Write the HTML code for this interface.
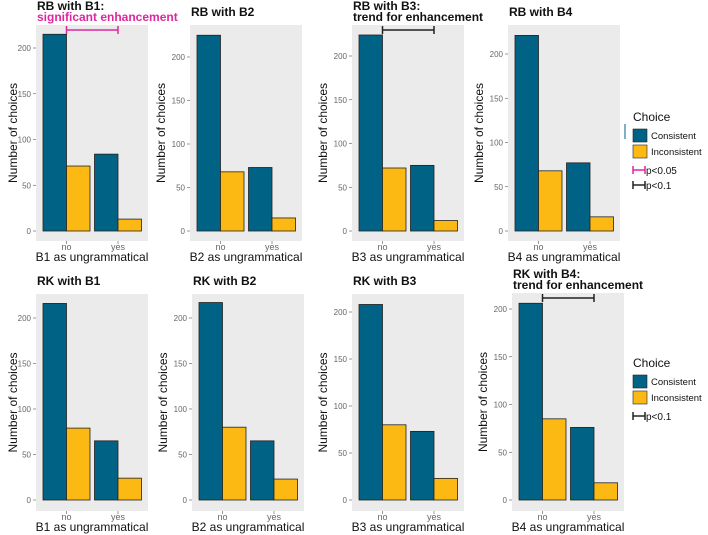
<!DOCTYPE html>
<html><head><meta charset="utf-8"><style>
body{margin:0;background:#fff;}
svg{display:block;font-family:"Liberation Sans",sans-serif;}
</style></head><body>
<svg id="chart" width="708" height="535" xmlns="http://www.w3.org/2000/svg"></svg>
<script>
const categories = ["no","yes"];
const seriesNames = ["Consistent","Inconsistent"];
const titles = [["RB with B1:","significant enhancement"],["RB with B2"],["RB with B3:","trend for enhancement"],["RB with B4"],
  ["RK with B1"],["RK with B2"],["RK with B3"],["RK with B4:","trend for enhancement"]];
const xTitles = ["B1 as ungrammatical","B2 as ungrammatical","B3 as ungrammatical","B4 as ungrammatical",
  "B1 as ungrammatical","B2 as ungrammatical","B3 as ungrammatical","B4 as ungrammatical"];
const consistentValues = [215,225,224,221,216,217,208,206];
const inconsistentValues = [71,68,72,68,79,80,80,85];
const consistentYes = [84,73,75,77,65,65,73,76];
const inconsistentYes = [13,15,12,16,24,23,23,18];
const yTicks = [0,50,100,150,200];
const sigType = ["p05",null,"p1",null,null,null,null,"p1"];
// layout (not data)
const layout = [
 {x:36,top:25,bot:241,y0:231,y200:48},{x:190,top:25,bot:241,y0:231,y200:57},
 {x:352,top:25,bot:241,y0:231,y200:56},{x:508,top:25,bot:241,y0:231,y200:54},
 {x:36,top:294,bot:511,y0:500,y200:318},{x:192,top:294,bot:511,y0:500,y200:318},
 {x:352,top:294,bot:511,y0:500,y200:312},{x:512,top:293,bot:511,y0:500,y200:309}];
const svg=document.getElementById('chart');const NS="http://www.w3.org/2000/svg";
function mk(t,a,p){const e=document.createElementNS(NS,t);for(const k in a)e.setAttribute(k,a[k]);(p||svg).appendChild(e);return e;}
const colors=["#006385","#fdb913"];
for(let i=0;i<8;i++){
  const L=layout[i];const g=mk('g',{});
  
  
  const W=112;
  const bg=mk('rect',{x:L.x,y:L.top,width:W,height:L.bot-L.top,fill:'#ebebeb'},g);
  
  
  const ys=v=>L.y0-(L.y200-L.y0)*-v/200;
  yTicks.forEach(t=>{
    const y=ys(t);
    mk('line',{x1:L.x-3,x2:L.x,y1:y,y2:y,stroke:'#555','stroke-width':0.6},g);
    const tx=mk('text',{x:L.x-5,y:y+3,'font-size':8,fill:'#666','text-anchor':'end'},g);tx.textContent=t;
    
    
  });
  const vals=[[consistentValues[i],inconsistentValues[i]],[consistentYes[i],inconsistentYes[i]]];
  const bw=23.5;
  categories.forEach((c,ci)=>{
    const cx=L.x+7+bw+ci*(bw*2+4.5);
    mk('line',{x1:cx,x2:cx,y1:L.bot,y2:L.bot+3,stroke:'#555','stroke-width':0.6},g);
    const tl=mk('text',{x:cx,y:L.bot+9,'font-size':9,fill:'#666','text-anchor':'middle'},g);tl.textContent=c;
    
    
    vals[ci].forEach((v,si)=>{
      const x=cx-bw+si*bw;
      const r=mk('rect',{x:x,y:ys(v),width:bw,height:L.y0-ys(v),fill:colors[si],stroke:'#222','stroke-width':0.8},g);
      
      
    });
  });
  const xt=mk('text',{x:L.x+W/2,y:L.bot+20,'font-size':12,fill:'#111','text-anchor':'middle'},g);xt.textContent=xTitles[i];
  
  
  const yc=(L.top+L.bot)/2, yx=L.x-(i%4===0?19:25);
  const yt=mk('text',{x:yx,y:yc,'font-size':12,fill:'#111','text-anchor':'middle',transform:`rotate(-90 ${yx} ${yc})`},g);yt.textContent="Number of choices";
  
  
  const T=titles[i];
  T.forEach((s,li)=>{
    const ty=T.length===1?L.top-9:L.top-15+li*11;
    const col=(i===0&&li===1)?'#e0269f':'#111';
    const tt=mk('text',{x:L.x+1,y:ty,'font-size':12,'font-weight':'bold',fill:col},g);tt.textContent=s;
    
    
  });
  if(sigType[i]){
    const col=sigType[i]==='p05'?'#e0269f':'#222';
    const x1=L.x+7+bw, x2=x1+bw*2+4.5, y=L.top+5;
    const b=mk('g',{stroke:col,'stroke-width':1.5},g);
    
    
    mk('line',{x1:x1,x2:x2,y1:y,y2:y},b);
    mk('line',{x1:x1,x2:x1,y1:y-4,y2:y+4},b);
    mk('line',{x1:x2,x2:x2,y1:y-4,y2:y+4},b);
  }
}
function legend(y0,items){
  const g=mk('g',{});
  
  
  const t=mk('text',{x:633,y:y0,'font-size':12,fill:'#111'},g);t.textContent="Choice";
  seriesNames.forEach((s,k)=>{
    const yy=y0+8+k*16;
    mk('rect',{x:633,y:yy,width:14,height:13,fill:colors[k],stroke:'#222','stroke-width':0.6},g);
    const lt=mk('text',{x:651,y:yy+10,'font-size':9.5,fill:'#111'},g);lt.textContent=s;
    
    
  });
  items.forEach((it,k)=>{
    const yy=y0+49+k*15;
    const b=mk('g',{stroke:it[1],'stroke-width':1.5},g);
    mk('line',{x1:633,x2:645,y1:yy,y2:yy},b);mk('line',{x1:633,x2:633,y1:yy-4,y2:yy+4},b);mk('line',{x1:645,x2:645,y1:yy-4,y2:yy+4},b);
    const lt=mk('text',{x:646,y:yy+4,'font-size':10,fill:'#111'},g);lt.textContent=it[0];
    
    
  });
}
legend(121,[["p<0.05","#e0269f"],["p<0.1","#222"]]);
legend(367,[["p<0.1","#222"]]);
mk('line',{x1:625,x2:625,y1:124,y2:139,stroke:'#006385','stroke-width':1});
</script>
</body></html>
